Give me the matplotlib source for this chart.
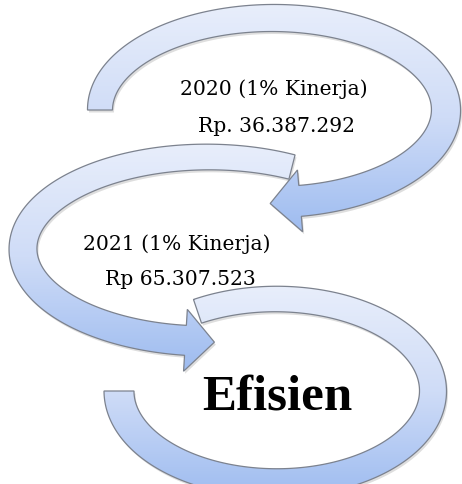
import numpy as np
import matplotlib.pyplot as plt
from matplotlib.patches import Polygon
from matplotlib.colors import LinearSegmentedColormap

# text of the diagram
labels_top = ['2020 (1% Kinerja)', 'Rp. 36.387.292']
labels_mid = ['2021 (1% Kinerja)', 'Rp 65.307.523']
label_end = 'Efisien'

W, H = 462, 484
shade = LinearSegmentedColormap.from_list('shade', ['#e8eefb', '#cfdcf7', '#9ebcf0'])


def band(cx, cy, a, b, t0, t1, w0, w1, head=None, n=300):
	# elliptic band in pixel coords (y down), widths tapering w0 -> w1
	t = np.radians(np.linspace(t0, t1, n))
	x = cx + a*np.cos(t)
	y = cy - b*np.sin(t)
	nx = (x-cx)/a**2
	ny = (y-cy)/b**2
	nn = np.hypot(nx, ny)
	nx, ny = nx/nn, ny/nn
	w = np.linspace(w0, w1, n)/2
	outer = np.c_[x+nx*w, y+ny*w]
	inner = np.c_[x-nx*w, y-ny*w]
	pts = [outer]
	if head is not None:
		hw, hl = head
		d = np.array([x[-1]-x[-2], y[-1]-y[-2]])
		d = d/np.hypot(*d)
		p = np.array([x[-1], y[-1]])
		nv = np.array([nx[-1], ny[-1]])
		pts.append(np.array([p+nv*hw, p+d*hl, p-nv*hw]))
	pts.append(inner[::-1])
	return np.vstack(pts)


def draw(ax, poly):
	sh = Polygon(poly+[1.5, 2.5], closed=True, fc='#000000', ec='none', alpha=0.13)
	ax.add_patch(sh)
	p = Polygon(poly, closed=True, fc='none', ec='#7c828e', lw=0.9, zorder=3)
	ax.add_patch(p)
	x0, y0 = poly.min(axis=0)
	x1, y1 = poly.max(axis=0)
	im = ax.imshow(np.linspace(0, 1, 256).reshape(-1, 1), cmap=shade, aspect='auto',
				   extent=(x0, x1, y1, y0), origin='upper', zorder=2)
	im.set_clip_path(p)


fig = plt.figure(figsize=(W/100, H/100), dpi=100)
ax = fig.add_axes([0, 0, 1, 1])

arrow3 = band(276, 391, 157, 92, 120, -180, 25, 30)
arrow2 = band(208, 249, 185, 92, 63, 263, 25, 30, head=(31, 29))
arrow1 = band(273, 110, 173, 92, 180, -81, 25, 31, head=(31, 30))

for poly in [arrow3, arrow2, arrow1]:
	draw(ax, poly)

ax.set_xlim(0, W)
ax.set_ylim(H, 0)
ax.axis('off')

reg = dict(family='DejaVu Serif', fontsize=14.6, ha='center', va='baseline', color='black', zorder=5)
ax.text(274, 95, labels_top[0], **reg)
ax.text(276, 132, labels_top[1], **reg)
ax.text(177, 250, labels_mid[0], **reg)
ax.text(180, 285, labels_mid[1], **reg)
ax.text(277, 409, label_end, family='Liberation Serif', fontweight='bold', fontsize=36.7,
		ha='center', va='baseline', zorder=5)

fig.savefig('out.png', dpi=100)
